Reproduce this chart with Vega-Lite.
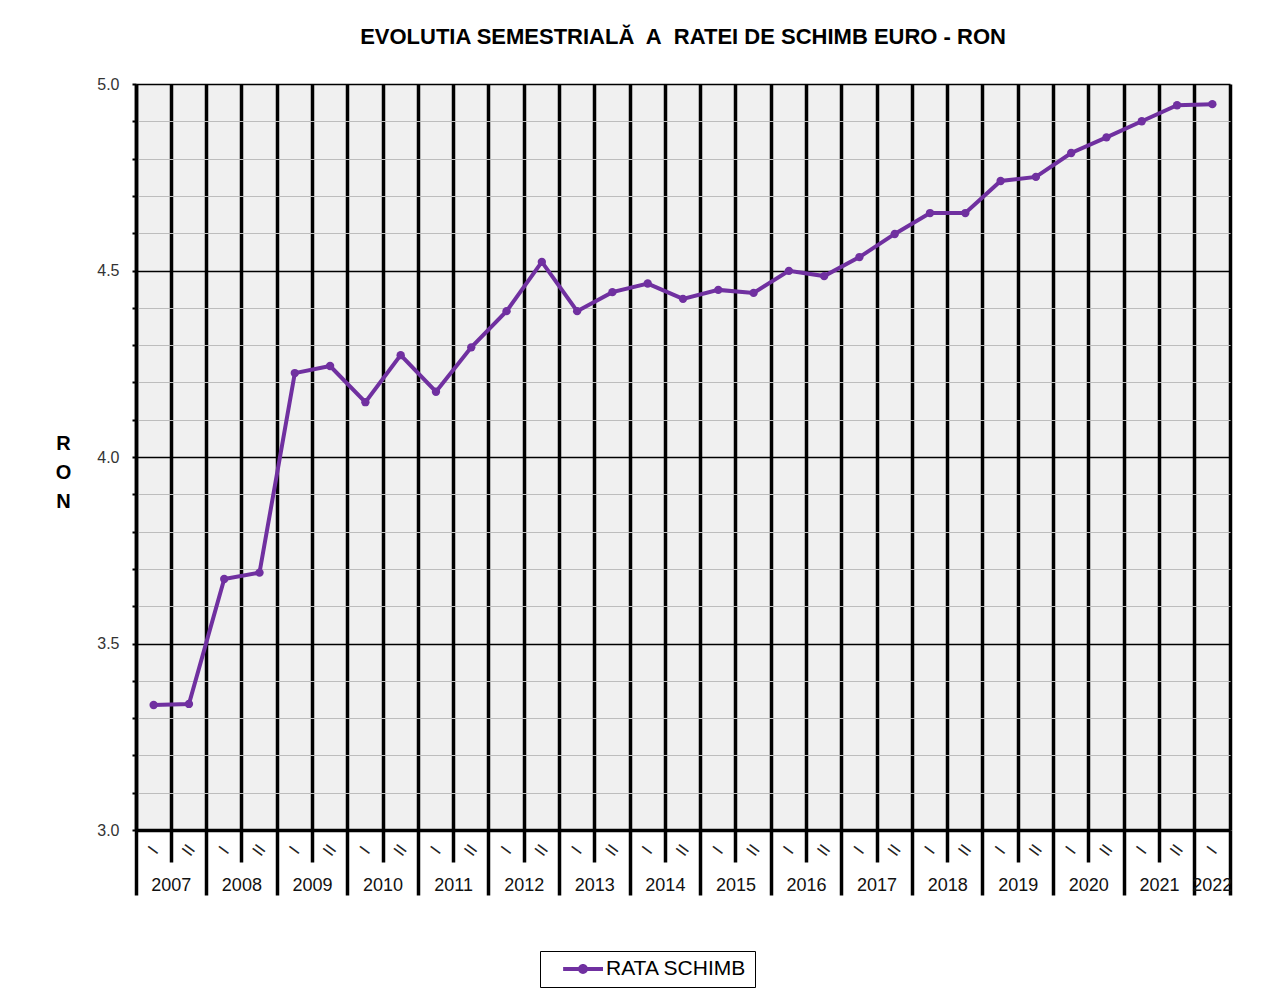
{
  "$schema": "https://vega.github.io/schema/vega-lite/v6.json",
  "width": 1094,
  "height": 746,
  "autosize": {"type": "none"},
  "padding": {"left": 136, "top": 84, "right": 52, "bottom": 159},
  "background": "white",
  "title": {
    "text": "EVOLUTIA SEMESTRIALĂ\u00a0 A\u00a0 RATEI DE SCHIMB EURO - RON",
    "anchor": "middle",
    "fontSize": 22,
    "fontWeight": "bold",
    "color": "black",
    "baseline": "alphabetic",
    "offset": 10
  },
  "data": {
    "values": [
      {"semestru": "2007 I", "curs": 3.335},
      {"semestru": "2007 II", "curs": 3.338},
      {"semestru": "2008 I", "curs": 3.673},
      {"semestru": "2008 II", "curs": 3.690},
      {"semestru": "2009 I", "curs": 4.225},
      {"semestru": "2009 II", "curs": 4.244},
      {"semestru": "2010 I", "curs": 4.147},
      {"semestru": "2010 II", "curs": 4.273},
      {"semestru": "2011 I", "curs": 4.175},
      {"semestru": "2011 II", "curs": 4.294},
      {"semestru": "2012 I", "curs": 4.391},
      {"semestru": "2012 II", "curs": 4.523},
      {"semestru": "2013 I", "curs": 4.391},
      {"semestru": "2013 II", "curs": 4.442},
      {"semestru": "2014 I", "curs": 4.465},
      {"semestru": "2014 II", "curs": 4.424},
      {"semestru": "2015 I", "curs": 4.448},
      {"semestru": "2015 II", "curs": 4.440},
      {"semestru": "2016 I", "curs": 4.499},
      {"semestru": "2016 II", "curs": 4.485},
      {"semestru": "2017 I", "curs": 4.536},
      {"semestru": "2017 II", "curs": 4.598},
      {"semestru": "2018 I", "curs": 4.654},
      {"semestru": "2018 II", "curs": 4.654},
      {"semestru": "2019 I", "curs": 4.740},
      {"semestru": "2019 II", "curs": 4.751},
      {"semestru": "2020 I", "curs": 4.815},
      {"semestru": "2020 II", "curs": 4.857},
      {"semestru": "2021 I", "curs": 4.900},
      {"semestru": "2021 II", "curs": 4.943},
      {"semestru": "2022 I", "curs": 4.946}
    ]
  },
  "encoding": {
    "y": {
      "field": "curs",
      "type": "quantitative",
      "scale": {"domain": [3, 5], "nice": false, "zero": false},
      "axis": {
        "orient": "left",
        "values": [3, 3.1, 3.2, 3.3, 3.4, 3.5, 3.6, 3.7, 3.8, 3.9, 4, 4.1, 4.2, 4.3, 4.4, 4.5, 4.6, 4.7, 4.8, 4.9, 5],
        "grid": true,
        "gridColor": {"condition": {"test": "abs(datum.value*2-round(datum.value*2))<0.01", "value": "black"}, "value": "#bdbdbd"},
        "gridWidth": {"condition": {"test": "abs(datum.value*2-round(datum.value*2))<0.01", "value": 1.3}, "value": 1.2},
        "tickSize": 4,
        "tickWidth": 2,
        "tickColor": "black",
        "domain": true,
        "domainColor": "black",
        "domainWidth": 3.5,
        "labelExpr": "abs(datum.value*2-round(datum.value*2))<0.01 ? format(datum.value,'.1f') : ''",
        "labelFontSize": 16,
        "labelColor": "#333333",
        "labelPadding": 13,
        "labelOverlap": false,
        "title": ["R", "O", "N"],
        "titleAngle": 0,
        "titleAlign": "center",
        "titleBaseline": "middle",
        "titleX": -73,
        "titleY": 359,
        "titleFontSize": 20,
        "titleFontWeight": "bold",
        "titleColor": "black",
        "titleLineHeight": 29
      }
    }
  },
  "layer": [
    {
      "mark": {"type": "line", "color": "#7030a0", "strokeWidth": 4},
      "encoding": {
        "x": {
          "field": "semestru",
          "type": "nominal",
          "scale": {"type": "band", "paddingInner": 0, "paddingOuter": 0},
          "axis": {
            "orient": "bottom",
            "bandPosition": 0,
            "grid": true,
            "gridColor": "black",
            "gridWidth": 3.5,
            "ticks": true,
            "tickColor": "black",
            "tickWidth": 3.5,
            "tickSize": {"condition": {"test": "indexof(datum.value,' II') < 0", "value": 65}, "value": 32},
            "labels": false,
            "domain": true,
            "domainColor": "black",
            "domainWidth": 3.5,
            "title": null
          }
        }
      }
    },
    {
      "mark": {"type": "point", "filled": true, "size": 70, "opacity": 1},
      "encoding": {
        "x": {
          "field": "semestru",
          "type": "nominal",
          "scale": {"type": "band", "paddingInner": 0, "paddingOuter": 0},
          "axis": {
            "orient": "bottom",
            "bandPosition": 0.5,
            "grid": false,
            "ticks": false,
            "domain": false,
            "labelExpr": "indexof(datum.value,' II') >= 0 ? 'II' : 'I'",
            "labelAngle": -54,
            "labelAlign": "center",
            "labelBaseline": "middle",
            "labelPadding": 20,
            "labelFontSize": 17,
            "labelColor": "#222222",
            "labelOverlap": false,
            "title": null
          }
        },
        "color": {
          "datum": "RATA SCHIMB",
          "scale": {"range": ["#7030a0"]},
          "legend": {
            "orient": "none",
            "legendX": 404,
            "legendY": 867,
            "title": null,
            "strokeColor": "black",
            "fillColor": "white",
            "padding": 8,
            "symbolType": "M-0.45,-0.073H1V0.073H-0.45Z M0.093,0A0.18,0.18 0 1,1 0.453,0A0.18,0.18 0 1,1 0.093,0Z",
            "symbolSize": 3025,
            "symbolStrokeWidth": 0,
            "symbolFillColor": "#7030a0",
            "symbolOpacity": 1,
            "labelFontSize": 21,
            "labelColor": "black",
            "labelOffset": 3,
            "clipHeight": 20
          }
        }
      }
    },
    {
      "mark": {"type": "text", "text": ""},
      "encoding": {
        "x": {
          "field": "semestru",
          "type": "nominal",
          "scale": {"type": "band", "paddingInner": 0, "paddingOuter": 0},
          "axis": {
            "orient": "bottom",
            "bandPosition": 1,
            "values": ["2007 I", "2008 I", "2009 I", "2010 I", "2011 I", "2012 I", "2013 I", "2014 I", "2015 I", "2016 I", "2017 I", "2018 I", "2019 I", "2020 I", "2021 I", "2022 I"],
            "grid": true,
            "gridColor": "black",
            "gridWidth": 3.5,
            "gridOpacity": {"condition": {"test": "datum.value == '2022 I'", "value": 1}, "value": 0},
            "ticks": true,
            "tickSize": 65,
            "tickWidth": 3.5,
            "tickColor": "black",
            "tickOpacity": {"condition": {"test": "datum.value == '2022 I'", "value": 1}, "value": 0},
            "domain": false,
            "labelExpr": "slice(datum.value,0,4)",
            "labelAlign": "center",
            "labelOffset": {"condition": {"test": "datum.value == '2022 I'", "value": 0}, "value": 17.65},
            "labelBaseline": "middle",
            "labelAngle": 0,
            "labelPadding": -10,
            "labelFontSize": 18,
            "labelColor": "#111111",
            "labelOverlap": false,
            "title": null
          }
        }
      }
    }
  ],
  "resolve": {"axis": {"x": "independent"}},
  "config": {
    "font": "Liberation Sans",
    "view": {"fill": "#f0f0f0", "stroke": null}
  }
}
